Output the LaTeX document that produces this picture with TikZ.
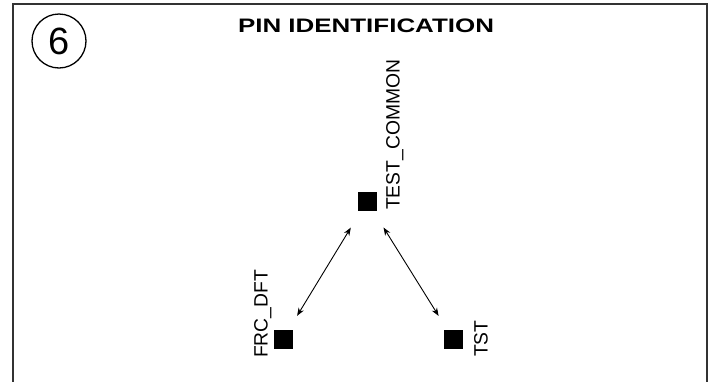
\documentclass[tikz,border=0pt]{standalone}
\usepackage{fontspec}
\setmainfont{Liberation Sans}
\usetikzlibrary{arrows.meta}
\begin{document}
\begin{tikzpicture}[x=1pt,y=-1pt,
  pin/.style={fill=black,minimum size=19pt,inner sep=0pt,outer sep=0pt},
  lbl/.style={rotate=90,anchor=base west,inner sep=0pt,font=\fontsize{19.3}{22}\selectfont},
  link/.style={line width=0.9pt,{Stealth[length=8pt,width=6pt]}-{Stealth[length=8pt,width=6pt]}},
  frame/.style={line width=2pt,draw=black!80}]
\useasboundingbox (0,0) rectangle (714,381);
\draw[frame] (13,382) -- (13,4) -- (707,4) -- (707,382);
\node[circle,draw,line width=1.3pt,minimum size=54pt,inner sep=0pt,font=\fontsize{38}{40}\selectfont] (num) at (59,41) {6};
\node[font=\bfseries\fontsize{19.5}{22}\selectfont,anchor=base,inner sep=0pt] (title) at (366,32) {\scalebox{1.33}[1]{PIN IDENTIFICATION}};
\node[pin] (tc) at (367,201) {};
\node[pin] (frc) at (283,339) {};
\node[pin] (tst) at (453,339) {};
\node[lbl] (tcl) at (399.5,210) {TEST\_COMMON};
\node[lbl] (frcl) at (267.5,358) {FRC\_DFT};
\node[lbl] (tstl) at (487.5,357) {TST};
\draw[link,shorten <=20pt,shorten >=16pt] (tc) -- (frc);
\draw[link,shorten <=20pt,shorten >=16pt] (tc) -- (tst);
\end{tikzpicture}
\end{document}
